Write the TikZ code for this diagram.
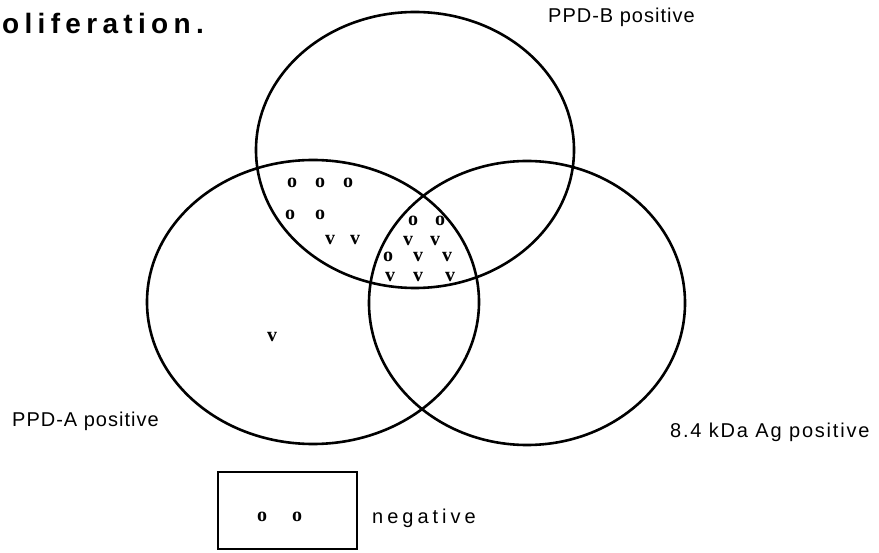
\documentclass[tikz,border=0pt]{standalone}
\usepackage{fontspec}
\setmainfont{Liberation Sans}
\newfontfamily\markfont{Liberation Serif}
\usetikzlibrary{shapes.geometric}
\begin{document}
\begin{tikzpicture}[x=1pt, y=-1pt, every node/.style={inner sep=0pt}]
\tikzset{
  vennset/.style={draw, ellipse, line width=2.6pt},
  setlabel/.style={anchor=base west, font=\fontsize{20}{24}\selectfont\addfontfeatures{LetterSpace=5}},
  cellmark/.style={font=\fontsize{20}{22}\selectfont\markfont\bfseries}
}
\useasboundingbox (0,0) rectangle (879,553);

% Titel (abgeschnitten)
\node[anchor=base west, font=\fontsize{28}{32}\selectfont\bfseries\addfontfeatures{LetterSpace=19}] (title) at (2,34) {oliferation.};

% Mengen
\node[vennset, minimum width=318pt, minimum height=276pt] (ppdb) at (415,150) {};
\node[vennset, minimum width=332pt, minimum height=284pt] (ppda) at (313,302) {};
\node[vennset, minimum width=316pt, minimum height=284pt] (kda) at (527,303) {};

% Beschriftung der Mengen
\node[setlabel] (lblb) at (548,23) {PPD-B positive};
\node[setlabel] (lbla) at (12,427) {PPD-A positive};
\node[setlabel, font=\fontsize{20}{24}\selectfont\addfontfeatures{LetterSpace=9}] (lblk) at (670,438) {8.4 kDa Ag positive};

% Probanden in den Schnittmengen
\foreach \mx/\my/\mt [count=\i] in {292/183/o, 320/183/o, 348/183/o, 290/215/o, 320/215/o,
    330/240/v, 355/240/v,
    413/221/o, 440/221/o, 408/241/v, 435/241/v, 388/257/o, 418/257/v, 447/257/v,
    390/277/v, 418/277/v, 450/277/v,
    272/337/v}
  \node[cellmark] (m\i) at (\mx,\my) {\mt};

% negativ
\node[draw, line width=2.4pt, minimum width=139pt, minimum height=77pt] (negbox) at (287.5,510.5) {};
\node[cellmark] (neg1) at (262,517) {o};
\node[cellmark] (neg2) at (297,517) {o};
\node[anchor=base west, font=\fontsize{20}{24}\selectfont\addfontfeatures{LetterSpace=20}] (neglbl) at (372,523) {negative};
\end{tikzpicture}
\end{document}
